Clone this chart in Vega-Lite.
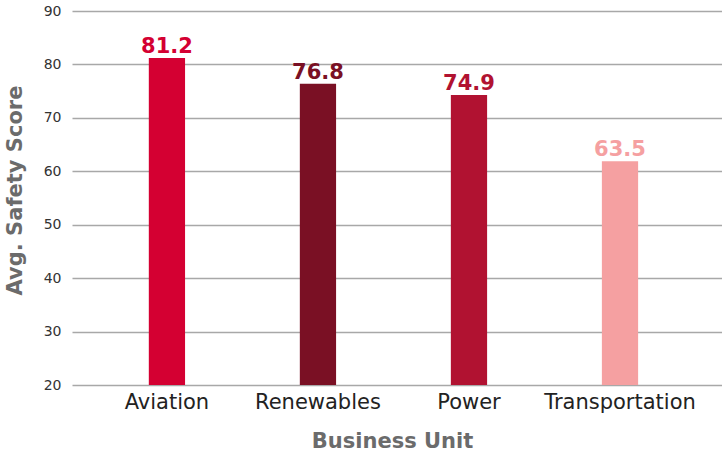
{
  "$schema": "https://vega.github.io/schema/vega-lite/v6.json",
  "width": 650,
  "height": 374,
  "autosize": {"type": "none"},
  "padding": {"left": 72, "top": 11, "right": 0, "bottom": 68},
  "background": "white",
  "config": {
    "view": {"stroke": null},
    "font": "DejaVu Sans"
  },
  "data": {
    "values": [
      {"unit": "Aviation", "score": 81.2, "label": "81.2", "color": "#D40032"},
      {"unit": "Renewables", "score": 76.4, "label": "76.8", "color": "#7A1024"},
      {"unit": "Power", "score": 74.3, "label": "74.9", "color": "#B11231"},
      {"unit": "Transportation", "score": 61.9, "label": "63.5", "color": "#F5A0A1"}
    ]
  },
  "encoding": {
    "x": {
      "field": "unit",
      "type": "nominal",
      "sort": null,
      "scale": {"paddingInner": 0.76, "paddingOuter": 0.532, "align": 0.478},
      "axis": {
        "title": "Business Unit",
        "titleFont": "DejaVu Sans",
        "titleFontSize": 21,
        "titleFontWeight": "bold",
        "titleColor": "#6b6b6b",
        "titlePadding": 18,
        "titleX": 320,
        "labelAngle": 0,
        "labelFontSize": 21,
        "labelColor": "#222222",
        "labelPadding": 6,
        "ticks": false,
        "domain": false
      }
    },
    "y": {
      "field": "score",
      "type": "quantitative",
      "scale": {"domain": [20, 90], "nice": false, "zero": false},
      "axis": {
        "title": "Avg. Safety Score",
        "titleFont": "DejaVu Sans",
        "titleFontSize": 21,
        "titleFontWeight": "bold",
        "titleColor": "#6b6b6b",
        "titlePadding": 18,
        "titleY": 179,
        "values": [20, 30, 40, 50, 60, 70, 80, 90],
        "labelFontSize": 14,
        "labelColor": "#333333",
        "labelPadding": 11,
        "ticks": false,
        "domain": false,
        "grid": true,
        "gridColor": "#a8a8a8",
        "gridWidth": 1.5
      }
    }
  },
  "layer": [
    {
      "mark": {"type": "bar"},
      "encoding": {
        "y2": {"datum": 20},
        "color": {"field": "color", "type": "nominal", "scale": null}
      }
    },
    {
      "mark": {"type": "text", "dy": -5, "baseline": "alphabetic", "fontSize": 21, "fontWeight": "bold", "font": "DejaVu Sans"},
      "encoding": {
        "text": {"field": "label"},
        "color": {"field": "color", "type": "nominal", "scale": null}
      }
    }
  ]
}
